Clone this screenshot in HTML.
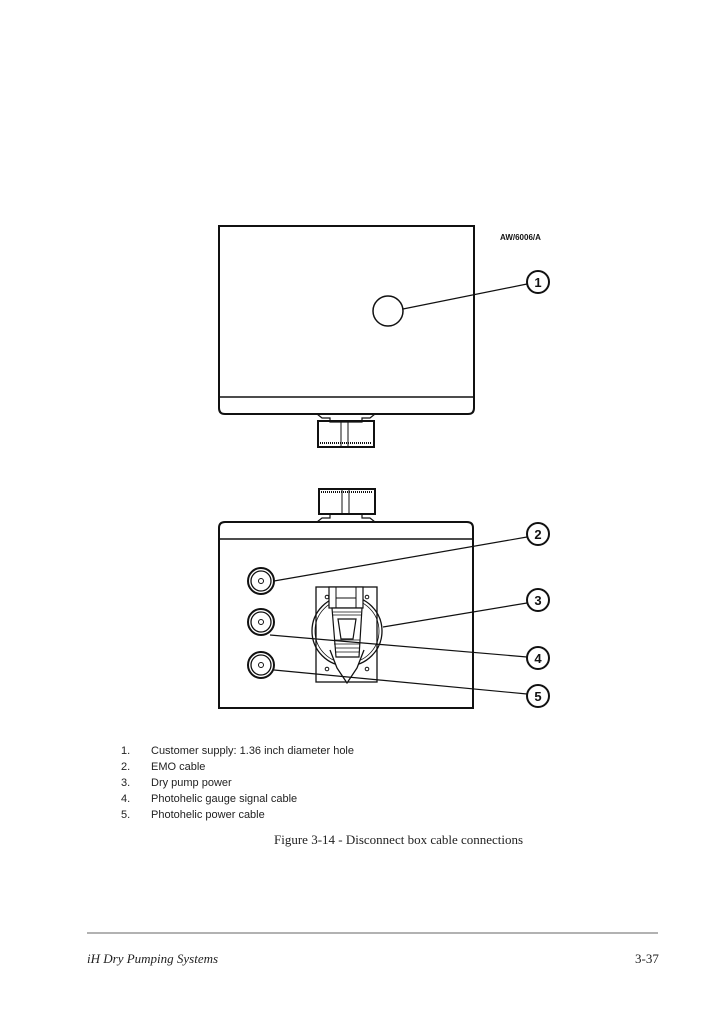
<!DOCTYPE html>
<html><head><style>
body{margin:0;background:#fff;width:724px;height:1024px;overflow:hidden;position:relative}
.s{font-family:"Liberation Sans",sans-serif;font-size:11px;position:absolute;color:#222}
.r{font-family:"Liberation Serif",serif;position:absolute;color:#222}
</style></head><body>
<svg width="724" height="1024" style="position:absolute;left:0;top:0" fill="none" stroke="#111">
<path d="M219 226 H474 V408 Q474 414 468 414 H225 Q219 414 219 408 Z" stroke-width="2"/>
<line x1="219" y1="397" x2="474" y2="397" stroke-width="1.5"/>
<path d="M317 414 L322 418 H330 V422 H362 V418 H370 L375 414" stroke-width="1.2"/>
<rect x="318" y="421" width="56" height="26" stroke-width="2"/>
<line x1="320" y1="443" x2="372" y2="443" stroke-width="2" stroke-dasharray="1 1"/>
<line x1="341" y1="421" x2="341" y2="447" stroke-width="1"/>
<line x1="348" y1="421" x2="348" y2="447" stroke-width="1"/>
<circle cx="388" cy="311" r="15" stroke-width="1.5"/>
<line x1="403" y1="309" x2="527" y2="284" stroke-width="1.2"/>
<path d="M219 708 H473 V528 Q473 522 467 522 H225 Q219 522 219 528 Z" stroke-width="2"/>
<line x1="219" y1="539" x2="473" y2="539" stroke-width="1.5"/>
<path d="M317 522 L322 518 H330 V514 H362 V518 H370 L375 522" stroke-width="1.2"/>
<rect x="319" y="489" width="56" height="25" stroke-width="2"/>
<line x1="321" y1="492" x2="373" y2="492" stroke-width="2" stroke-dasharray="1 1"/>
<line x1="342" y1="489" x2="342" y2="514" stroke-width="1"/>
<line x1="349" y1="489" x2="349" y2="514" stroke-width="1"/>
<g stroke-width="1.3">
<circle cx="261" cy="581" r="13" stroke-width="2"/><circle cx="261" cy="581" r="10"/><circle cx="261" cy="581" r="2.5" stroke-width="1"/>
<circle cx="261" cy="622" r="13" stroke-width="2"/><circle cx="261" cy="622" r="10"/><circle cx="261" cy="622" r="2.5" stroke-width="1"/>
<circle cx="261" cy="665" r="13" stroke-width="2"/><circle cx="261" cy="665" r="10"/><circle cx="261" cy="665" r="2.5" stroke-width="1"/>
</g>
<rect x="316" y="587" width="61" height="95" stroke-width="1.3"/>
<circle cx="347" cy="631" r="35" stroke-width="1.3"/>
<circle cx="347" cy="631" r="32" stroke-width="0.8"/>
<path d="M330 650 L337 668 L347 683 L357 668 L364 650" stroke-width="1.3" fill="#fff"/>
<rect x="329" y="587" width="34" height="21" fill="#fff" stroke-width="1.2"/>
<line x1="336" y1="587" x2="336" y2="608" stroke-width="1"/><line x1="356" y1="587" x2="356" y2="608" stroke-width="1"/>
<line x1="336" y1="598" x2="356" y2="598" stroke-width="1"/>
<path d="M332 608 H362 L359 657 H336 Z" fill="#fff" stroke-width="1.2"/>
<g stroke-width="0.8"><line x1="333" y1="612" x2="361" y2="612"/><line x1="333" y1="615" x2="361" y2="615"/><line x1="334" y1="640" x2="360" y2="640"/><line x1="334" y1="644" x2="360" y2="644"/><line x1="335" y1="648" x2="360" y2="648"/><line x1="335" y1="652" x2="359" y2="652"/></g>
<path d="M338 619 H356 L353 639 H341 Z" stroke-width="1.2"/>
<g stroke-width="1"><circle cx="327" cy="597" r="1.8"/><circle cx="367" cy="597" r="1.8"/><circle cx="327" cy="669" r="1.8"/><circle cx="367" cy="669" r="1.8"/></g>
<g stroke-width="1.2">
<line x1="274" y1="581" x2="527" y2="537"/>
<line x1="383" y1="627" x2="527" y2="603"/>
<line x1="270" y1="635" x2="527" y2="657"/>
<line x1="274" y1="670" x2="527" y2="694"/>
</g>
<g stroke-width="2" fill="#fff">
<circle cx="538" cy="282" r="11"/><circle cx="538" cy="534" r="11"/><circle cx="538" cy="600" r="11"/><circle cx="538" cy="658" r="11"/><circle cx="538" cy="696" r="11"/>
</g>
<g font-family="Liberation Sans, sans-serif" font-weight="bold" font-size="13" fill="#111" stroke="none" text-anchor="middle">
<text x="538" y="287">1</text><text x="538" y="539">2</text><text x="538" y="605">3</text><text x="538" y="663">4</text><text x="538" y="701">5</text>
</g>
<text x="500" y="240" font-family="Liberation Sans, sans-serif" font-size="8" font-weight="bold" fill="#111" stroke="none">AW/6006/A</text>
<line x1="87" y1="933" x2="658" y2="933" stroke="#666" stroke-width="1"/>
</svg>
<div class="s" style="left:121px;top:745px">1.</div><div class="s" style="left:151px;top:745px">Customer supply: 1.36 inch diameter hole</div>
<div class="s" style="left:121px;top:761px">2.</div><div class="s" style="left:151px;top:761px">EMO cable</div>
<div class="s" style="left:121px;top:777px">3.</div><div class="s" style="left:151px;top:777px">Dry pump power</div>
<div class="s" style="left:121px;top:793px">4.</div><div class="s" style="left:151px;top:793px">Photohelic gauge signal cable</div>
<div class="s" style="left:121px;top:809px">5.</div><div class="s" style="left:151px;top:809px">Photohelic power cable</div>
<div class="r" style="left:274px;top:832px;font-size:13px">Figure 3-14 - Disconnect box cable connections</div>
<div class="r" style="left:87px;top:951px;font-size:13px;font-style:italic">iH Dry Pumping Systems</div>
<div class="r" style="left:635px;top:951px;font-size:13px">3-37</div>
</body></html>
